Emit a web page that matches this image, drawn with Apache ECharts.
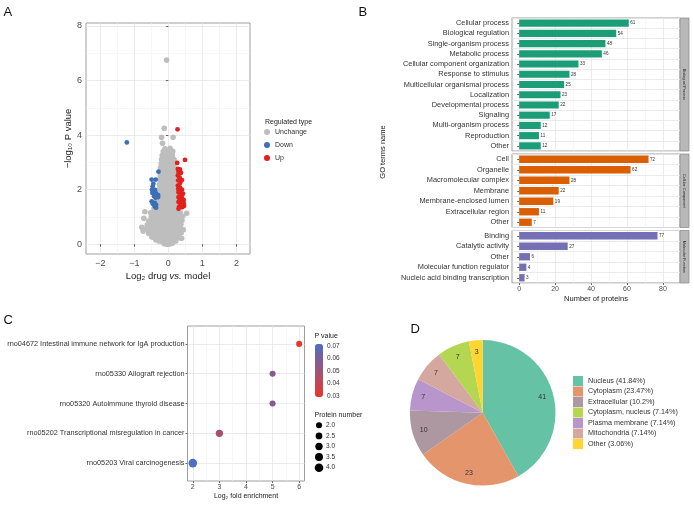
<!DOCTYPE html>
<html>
<head>
<meta charset="utf-8">
<script src="https://cdn.jsdelivr.net/npm/echarts@6/dist/echarts.min.js"></script>
<style>
html, body { margin: 0; padding: 0; background: #fff; }
#chart { width: 694px; height: 505px; }
</style>
</head>
<body>
<div id="chart"></div>
<script>
// ---------- Panel A: volcano plot ([log2 FC, -log10 P]) ----------
const volcanoUnchange = [
  [-0.12, 0.02], [-0.04, 0.0], [0.04, 0.01], [0.12, 0.03],
  [-0.28, 0.12], [-0.18, 0.1], [-0.08, 0.12], [0.02, 0.1], [0.12, 0.13], [0.22, 0.12],
  [-0.37, 0.16], [-0.49, 0.28], [0.39, 0.22],
  [-0.46, 0.26], [-0.36, 0.24], [-0.26, 0.25], [-0.15, 0.27], [-0.05, 0.24], [0.05, 0.26], [0.15, 0.25], [0.25, 0.27], [0.33, 0.24],
  [-0.58, 0.4], [-0.47, 0.42], [-0.36, 0.39], [-0.25, 0.41], [-0.14, 0.4], [-0.03, 0.42], [0.08, 0.39], [0.19, 0.41], [0.3, 0.4], [0.38, 0.42],
  [-0.74, 0.48], [-0.66, 0.55], [-0.55, 0.57], [-0.44, 0.54], [-0.33, 0.56], [-0.22, 0.55], [-0.11, 0.57], [0.0, 0.54], [0.11, 0.56], [0.22, 0.55], [0.33, 0.57], [0.44, 0.53],
  [-0.78, 0.62], [-0.62, 0.7], [-0.51, 0.72], [-0.4, 0.69], [-0.29, 0.71], [-0.18, 0.7], [-0.07, 0.72], [0.04, 0.69], [0.15, 0.71], [0.26, 0.7], [0.37, 0.72],
  [-0.58, 0.85], [-0.47, 0.87], [-0.36, 0.84], [-0.25, 0.86], [-0.14, 0.85], [-0.03, 0.87], [0.08, 0.84], [0.19, 0.86], [0.3, 0.85], [0.4, 0.87],
  [-0.72, 0.95], [-0.5, 1.0], [-0.4, 1.02], [-0.3, 0.99], [-0.2, 1.01], [-0.1, 1.0], [0.0, 1.02], [0.1, 0.99], [0.2, 1.01], [0.3, 1.0], [0.42, 1.02],
  [-0.69, 1.19], [-0.52, 1.15], [-0.41, 1.17], [-0.3, 1.14], [-0.19, 1.16], [-0.08, 1.15], [0.03, 1.17], [0.14, 1.14], [0.25, 1.16], [0.35, 1.15], [0.54, 1.13],
  [-0.42, 1.3], [-0.32, 1.32], [-0.22, 1.29], [-0.12, 1.31], [-0.02, 1.3], [0.08, 1.32], [0.18, 1.29], [0.27, 1.31],
  [-0.3, 1.45], [-0.2, 1.47], [-0.1, 1.44], [0.0, 1.46], [0.1, 1.45], [0.2, 1.47],
  [-0.28, 1.6], [-0.18, 1.62], [-0.08, 1.59], [0.02, 1.61], [0.12, 1.6], [0.22, 1.62],
  [-0.26, 1.75], [-0.16, 1.77], [-0.06, 1.74], [0.04, 1.76], [0.14, 1.75], [0.23, 1.77],
  [-0.27, 1.9], [-0.17, 1.92], [-0.07, 1.89], [0.03, 1.91], [0.13, 1.9], [0.22, 1.92],
  [-0.25, 2.05], [-0.15, 2.07], [-0.05, 2.04], [0.05, 2.06], [0.15, 2.05], [0.23, 2.07],
  [-0.26, 2.2], [-0.16, 2.22], [-0.06, 2.19], [0.04, 2.21], [0.14, 2.2], [0.22, 2.22],
  [-0.24, 2.35], [-0.14, 2.37], [-0.04, 2.34], [0.06, 2.36], [0.16, 2.35],
  [-0.24, 2.5], [-0.14, 2.52], [-0.04, 2.49], [0.06, 2.51], [0.16, 2.5], [0.21, 2.52],
  [-0.22, 2.65], [-0.12, 2.67], [-0.02, 2.64], [0.08, 2.66], [0.18, 2.65],
  [-0.23, 2.8], [-0.13, 2.82], [-0.03, 2.79], [0.07, 2.81], [0.17, 2.8],
  [-0.21, 2.95], [-0.11, 2.97], [-0.01, 2.94], [0.09, 2.96], [0.18, 2.95],
  [-0.2, 3.1], [-0.1, 3.12], [0.0, 3.09], [0.1, 3.11], [0.17, 3.1],
  [-0.18, 3.25], [-0.08, 3.27], [0.02, 3.24], [0.12, 3.26],
  [-0.15, 3.4], [-0.05, 3.42], [0.05, 3.39], [0.13, 3.41],
  [-0.1, 3.5], [0.05, 3.52],
  [-0.17, 3.7], [-0.2, 3.92], [0.14, 3.92], [-0.12, 4.25], [-0.05, 6.75]
]
const volcanoDown = [
  [-1.22, 3.73], [-0.29, 2.66], [-0.49, 2.37], [-0.37, 2.37], [-0.44, 2.22], [-0.46, 2.12],
  [-0.48, 2.0], [-0.39, 1.99], [-0.47, 1.88], [-0.36, 1.86], [-0.3, 1.8], [-0.42, 1.76],
  [-0.3, 1.73], [-0.38, 1.7], [-0.49, 1.57], [-0.4, 1.52], [-0.46, 1.48], [-0.36, 1.44],
  [-0.4, 1.38], [-0.36, 1.34]
]
const volcanoUp = [
  [0.27, 4.21], [0.49, 3.09], [0.26, 2.98], [0.28, 2.76], [0.34, 2.74], [0.3, 2.66],
  [0.37, 2.62], [0.28, 2.52], [0.33, 2.45], [0.4, 2.35], [0.29, 2.34], [0.35, 2.25],
  [0.28, 2.15], [0.34, 2.08], [0.29, 2.02], [0.4, 2.0], [0.36, 1.95], [0.3, 1.9],
  [0.43, 1.85], [0.35, 1.8], [0.3, 1.72], [0.4, 1.7], [0.45, 1.62], [0.34, 1.62],
  [0.38, 1.55], [0.45, 1.5], [0.3, 1.55], [0.36, 1.45], [0.42, 1.42], [0.32, 1.38],
  [0.4, 1.35], [0.46, 1.4], [0.3, 1.3]
]

// ---------- Panel B: GO terms ----------
const bpTerms = ['Cellular process', 'Biological regulation', 'Single-organism process', 'Metabolic process',
  'Cellular component organization', 'Response to stimulus', 'Multicellular organismal process', 'Localization',
  'Developmental process', 'Signaling', 'Multi-organism process', 'Reproduction', 'Other']
const bpCounts = [61, 54, 48, 46, 33, 28, 25, 23, 22, 17, 12, 11, 12]
const ccTerms = ['Cell', 'Organelle', 'Macromolecular complex', 'Membrane', 'Membrane-enclosed lumen', 'Extracellular region', 'Other']
const ccCounts = [72, 62, 28, 22, 19, 11, 7]
const mfTerms = ['Binding', 'Catalytic activity', 'Other', 'Molecular function regulator', 'Nucleic acid binding transcription']
const mfCounts = [77, 27, 6, 4, 3]
const goStrips = ['Biological Process', 'Cellular Component', 'Molecular Function']

// ---------- Panel C: KEGG enrichment ----------
const keggPathways = ['rno04672 Intestinal immune network for IgA production', 'rno05330 Allograft rejection',
  'rno05320 Autoimmune thyroid disease', 'rno05202 Transcriptional misregulation in cancer', 'rno05203 Viral carcinogenesis']
const keggFold = [6, 5, 5, 3, 2]
const keggPValue = [0.031, 0.056, 0.056, 0.047, 0.07]
const keggProteins = [2, 2, 2, 3, 4]
const proteinLegendValues = [2.0, 2.5, 3.0, 3.5, 4.0]

// ---------- Panel D: subcellular location ----------
const locNames = ['Nucleus', 'Cytoplasm', 'Extracellular', 'Plasma membrane', 'Mitochondria', 'Cytoplasm, nucleus', 'Other']
const locCounts = [41, 23, 10, 7, 7, 7, 3]
const locLegendOrder = ['Nucleus', 'Cytoplasm', 'Extracellular', 'Cytoplasm, nucleus', 'Plasma membrane', 'Mitochondria', 'Other']

const FONT = '"Liberation Sans", Arial, Helvetica, sans-serif'
const gridMajor = { color: '#e6e6e6', width: 0.8 }
const gridMinor = { color: '#f2f2f2', width: 0.6 }
const borderColor = '#9e9e9e'

const locColors = {
  'Nucleus': '#66c2a5',
  'Cytoplasm': '#e5956b',
  'Extracellular': '#ad97a0',
  'Plasma membrane': '#b896cc',
  'Mitochondria': '#d4a89e',
  'Cytoplasm, nucleus': '#b4d651',
  'Other': '#fed531'
}

// layout of panels
const gA = { left: 86, top: 23, width: 164, height: 231 }
const gB = [
  { top: 18, height: 133 },
  { top: 154, height: 73.5 },
  { top: 230.5, height: 52.5 }
]
const gBLeft = 512
const gBWidth = 168
const gC = { left: 187.5, top: 326, width: 117, height: 155 }

const dotSize = (n) => 3.6 + 1.25 * n
const minusFmt = (v) => (Number.isInteger(v) ? (v < 0 ? '\u2212' + Math.abs(v) : String(v)) : '')

const chart = echarts.init(document.getElementById('chart'), null, { renderer: 'canvas' })

const barPanels = [
  { terms: bpTerms, counts: bpCounts, color: '#1b9e77' },
  { terms: ccTerms, counts: ccCounts, color: '#d95f02' },
  { terms: mfTerms, counts: mfCounts, color: '#7570b3' }
]

const total = locCounts.reduce((a, b) => a + b, 0)
const locPct = {}
locNames.forEach((n, i) => { locPct[n] = Number((locCounts[i] / total * 100).toFixed(2)) })

const grids = [
  { ...gA, show: true, borderColor: borderColor, borderWidth: 1, backgroundColor: '#fff' },
  ...gB.map(g => ({ left: gBLeft, width: gBWidth, top: g.top, height: g.height, show: true, borderColor: borderColor, borderWidth: 1, backgroundColor: '#fff' })),
  { ...gC, show: true, borderColor: borderColor, borderWidth: 1, backgroundColor: '#fff' },
  { left: 314, width: 10, top: 420, height: 53 },   // size legend of C
  { left: 315, width: 8, top: 346, height: 50 }     // colour bar labels of C
]

const tickLabel = (size) => ({ color: '#4d4d4d', fontSize: size, fontFamily: FONT })

const xAxes = [
  {
    gridIndex: 0, type: 'value', min: -2.42, max: 2.4,
    name: '{n|Log₂ drug }{i|vs.}{n| model}', nameLocation: 'middle', nameGap: 17,
    nameTextStyle: { rich: { n: { fontSize: 9.5, fontFamily: FONT, color: '#1a1a1a' }, i: { fontSize: 9.5, fontFamily: FONT, fontStyle: 'italic', color: '#1a1a1a' } } },
    axisLine: { show: false },
    axisTick: { show: true, length: 2.5, lineStyle: { color: '#666' }, customValues: [-2, -1, 0, 1, 2] },
    axisLabel: { ...tickLabel(9), margin: 5, formatter: minusFmt },
    splitLine: { show: true, lineStyle: gridMajor },
    minorTick: { show: false, splitNumber: 2 },
    minorSplitLine: { show: true, lineStyle: gridMinor }
  },
  ...gB.map((g, i) => ({
    gridIndex: i + 1, type: 'value', min: -4, max: 89.5,
    name: i === 2 ? 'Number of proteins' : '', nameLocation: 'middle', nameGap: 12,
    nameTextStyle: { fontSize: 7.5, fontFamily: FONT, color: '#1a1a1a' },
    axisLine: { show: false },
    axisTick: { show: i === 2, length: 2, lineStyle: { color: '#666' }, customValues: [0, 20, 40, 60, 80] },
    axisLabel: {
      show: i === 2, ...tickLabel(7), margin: 3,
      formatter: (v) => (v >= 0 && v % 20 === 0 ? String(v) : '')
    },
    splitLine: { show: true, lineStyle: gridMajor },
    minorTick: { show: false, splitNumber: 2 },
    minorSplitLine: { show: true, lineStyle: gridMinor }
  })),
  {
    gridIndex: 4, type: 'value', min: 1.8, max: 6.2,
    name: 'Log₂ fold enrichment', nameLocation: 'middle', nameGap: 12,
    nameTextStyle: { fontSize: 7, fontFamily: FONT, color: '#1a1a1a' },
    axisLine: { show: false },
    axisTick: { show: true, length: 2, lineStyle: { color: '#666' }, customValues: [2, 3, 4, 5, 6] },
    axisLabel: { ...tickLabel(7), margin: 3, formatter: minusFmt },
    splitLine: { show: true, lineStyle: gridMajor },
    minorTick: { show: false, splitNumber: 2 },
    minorSplitLine: { show: true, lineStyle: gridMinor }
  },
  { gridIndex: 5, type: 'value', min: -1, max: 1, show: false },
  { gridIndex: 6, type: 'value', min: 0, max: 1, show: false }
]

const yAxes = [
  {
    gridIndex: 0, type: 'value', min: -0.36, max: 8.11,
    name: '\u2212log₁₀ P value', nameLocation: 'middle', nameGap: 10,
    nameTextStyle: { fontSize: 9.5, fontFamily: FONT, color: '#1a1a1a' },
    axisLine: { show: false },
    axisTick: { show: true, length: 2.5, lineStyle: { color: '#666' }, customValues: [0, 2, 4, 6, 8] },
    axisLabel: { ...tickLabel(9), margin: 4, formatter: minusFmt },
    splitLine: { show: true, lineStyle: gridMajor },
    minorTick: { show: false, splitNumber: 2 },
    minorSplitLine: { show: true, lineStyle: gridMinor }
  },
  ...barPanels.map((p, i) => ({
    gridIndex: i + 1, type: 'category', inverse: true, data: p.terms,
    axisLine: { show: false },
    axisTick: { show: true, length: 2, alignWithLabel: true, interval: 0, lineStyle: { color: '#666' } },
    axisLabel: { ...tickLabel(7.4), color: '#333', margin: 3, interval: 0 },
    splitLine: { show: true, interval: 0, lineStyle: gridMajor }
  })),
  {
    gridIndex: 4, type: 'value', min: 0.4, max: 5.6, inverse: true,
    axisLine: { show: false },
    axisTick: { show: true, length: 2, lineStyle: { color: '#666' }, customValues: [1, 2, 3, 4, 5] },
    axisLabel: {
      ...tickLabel(7.3), color: '#333', margin: 3, customValues: [1, 2, 3, 4, 5],
      formatter: (v) => (Number.isInteger(v) && v >= 1 && v <= keggPathways.length ? keggPathways[v - 1] : '')
    },
    splitLine: { show: true, lineStyle: gridMajor }
  },
  {
    gridIndex: 5, type: 'category', inverse: true, position: 'right',
    data: proteinLegendValues.map(v => v.toFixed(1)),
    axisLine: { show: false }, axisTick: { show: false },
    axisLabel: { ...tickLabel(6.5), color: '#333', margin: 2, interval: 0 },
    splitLine: { show: false }
  },
  {
    gridIndex: 6, type: 'value', min: 0.03, max: 0.07, position: 'right',
    axisLine: { show: false }, axisTick: { show: false },
    axisLabel: { ...tickLabel(6.5), color: '#333', margin: 4, formatter: (v) => v.toFixed(2) },
    splitLine: { show: false }
  }
]

const volcanoSeries = [
  { name: 'Unchange', data: volcanoUnchange, color: '#bebebe', size: 5.6 },
  { name: 'Down', data: volcanoDown, color: '#3c6fb6', size: 4.8 },
  { name: 'Up', data: volcanoUp, color: '#e3201b', size: 4.8 }
].map(s => ({
  name: s.name, type: 'scatter', xAxisIndex: 0, yAxisIndex: 0,
  data: s.data, symbolSize: s.size,
  itemStyle: { color: s.color, opacity: 1, borderWidth: 0 }, silent: true
}))

const barSeries = barPanels.map((p, i) => ({
  type: 'bar', xAxisIndex: i + 1, yAxisIndex: i + 1,
  data: p.counts, barWidth: '70%',
  itemStyle: { color: p.color },
  label: { show: true, position: 'right', distance: 1.5, fontSize: 4.6, fontFamily: FONT, color: '#333' },
  silent: true
}))

const keggData = keggPathways.map((p, i) => [keggFold[i], i + 1, keggPValue[i], keggProteins[i]])

const pieCenter = [482.7, 412.8]

const series = [
  ...volcanoSeries,
  ...barSeries,
  {
    type: 'scatter', xAxisIndex: 4, yAxisIndex: 4,
    data: keggData,
    symbolSize: (v) => dotSize(v[3]),
    itemStyle: { opacity: 1 },
    silent: true
  },
  {
    type: 'scatter', xAxisIndex: 5, yAxisIndex: 5,
    data: proteinLegendValues.map((v, i) => ({ value: [0, i], symbolSize: dotSize(v) })),
    itemStyle: { color: '#000', opacity: 1 },
    silent: true
  },
  {
    type: 'pie', center: pieCenter, radius: [0, 72.8], startAngle: 90, clockwise: true,
    data: locNames.map((n, i) => ({ name: n, value: locCounts[i], itemStyle: { color: locColors[n] } })),
    label: { show: false }, labelLine: { show: false },
    itemStyle: { borderWidth: 0 }, silent: true
  },
  {
    // label layer: puts the counts at ~0.8 of the pie radius
    type: 'pie', center: pieCenter, radius: [0, 117], startAngle: 90, clockwise: true,
    data: locNames.map((n, i) => ({ name: n, value: locCounts[i] })),
    itemStyle: { color: 'rgba(0,0,0,0)', borderWidth: 0 },
    label: { show: true, position: 'inside', formatter: '{c}', fontSize: 7, fontFamily: FONT, color: '#333' },
    labelLine: { show: false }, silent: true
  }
]

const panelLetter = (t, x, y) => ({
  type: 'text', x: x, y: y,
  style: { text: t, fontSize: 13, fontFamily: FONT, fill: '#111', align: 'left', verticalAlign: 'middle' }
})

const smallText = (t, x, y, size) => ({
  type: 'text', x: x, y: y,
  style: { text: t, fontSize: size, fontFamily: FONT, fill: '#1a1a1a', align: 'left', verticalAlign: 'middle' }
})

const stripGraphics = []
gB.forEach((g, i) => {
  stripGraphics.push({
    type: 'rect',
    shape: { x: gBLeft + gBWidth, y: g.top, width: 9, height: g.height },
    style: { fill: '#b8b8b8', stroke: '#8f8f8f', lineWidth: 0.8 }
  })
  stripGraphics.push({
    type: 'text', x: gBLeft + gBWidth + 4.5, y: g.top + g.height / 2, rotation: -Math.PI / 2,
    style: { text: goStrips[i], fontSize: 3.8, fontFamily: FONT, fill: '#1a1a1a', align: 'center', verticalAlign: 'middle' }
  })
})

const option = {
  backgroundColor: '#fff',
  animation: false,
  textStyle: { fontFamily: FONT },
  grid: grids,
  xAxis: xAxes,
  yAxis: yAxes,
  legend: [
    {
      data: ['Unchange', 'Down', 'Up'], orient: 'vertical', left: 264, top: 127.5, padding: 0,
      icon: 'circle', itemWidth: 6, itemHeight: 6, itemGap: 4,
      textStyle: { fontSize: 7, fontFamily: FONT, color: '#333', lineHeight: 9 },
      selectedMode: false
    },
    {
      data: locLegendOrder, orient: 'vertical', left: 573, top: 376, padding: 0,
      icon: 'rect', itemWidth: 10, itemHeight: 10, itemGap: 0.5,
      textStyle: { fontSize: 7.2, fontFamily: FONT, color: '#333', lineHeight: 10 },
      formatter: (name) => `${name} (${locPct[name]}%)`,
      selectedMode: false
    }
  ],
  visualMap: {
    type: 'continuous', seriesIndex: 6, dimension: 2,
    min: 0.03, max: 0.07, calculable: false, hoverLink: false,
    left: 315, top: 344, itemWidth: 8, itemHeight: 53, padding: 0,
    inRange: { color: ['#e8362a', '#c24553', '#9c5478', '#76609e', '#4a6fc4'] },
    text: null, showLabel: false
  },
  graphic: [
    panelLetter('A', 3.5, 12.5),
    panelLetter('B', 358.5, 12.5),
    panelLetter('C', 3.5, 320),
    panelLetter('D', 410.5, 329),
    smallText('Regulated type', 265, 122.5, 7),
    smallText('P value', 314.5, 336.5, 7),
    smallText('Protein number', 314.5, 415, 7),
    {
      type: 'text', x: 383, y: 152, rotation: Math.PI / 2,
      style: { text: 'GO terms name', fontSize: 7.5, fontFamily: FONT, fill: '#1a1a1a', align: 'center', verticalAlign: 'middle' }
    },
    ...stripGraphics
  ],
  series: series
}

chart.setOption(option)

window.addEventListener('resize', () => {
  chart.resize()
})
</script>
</body>
</html>
